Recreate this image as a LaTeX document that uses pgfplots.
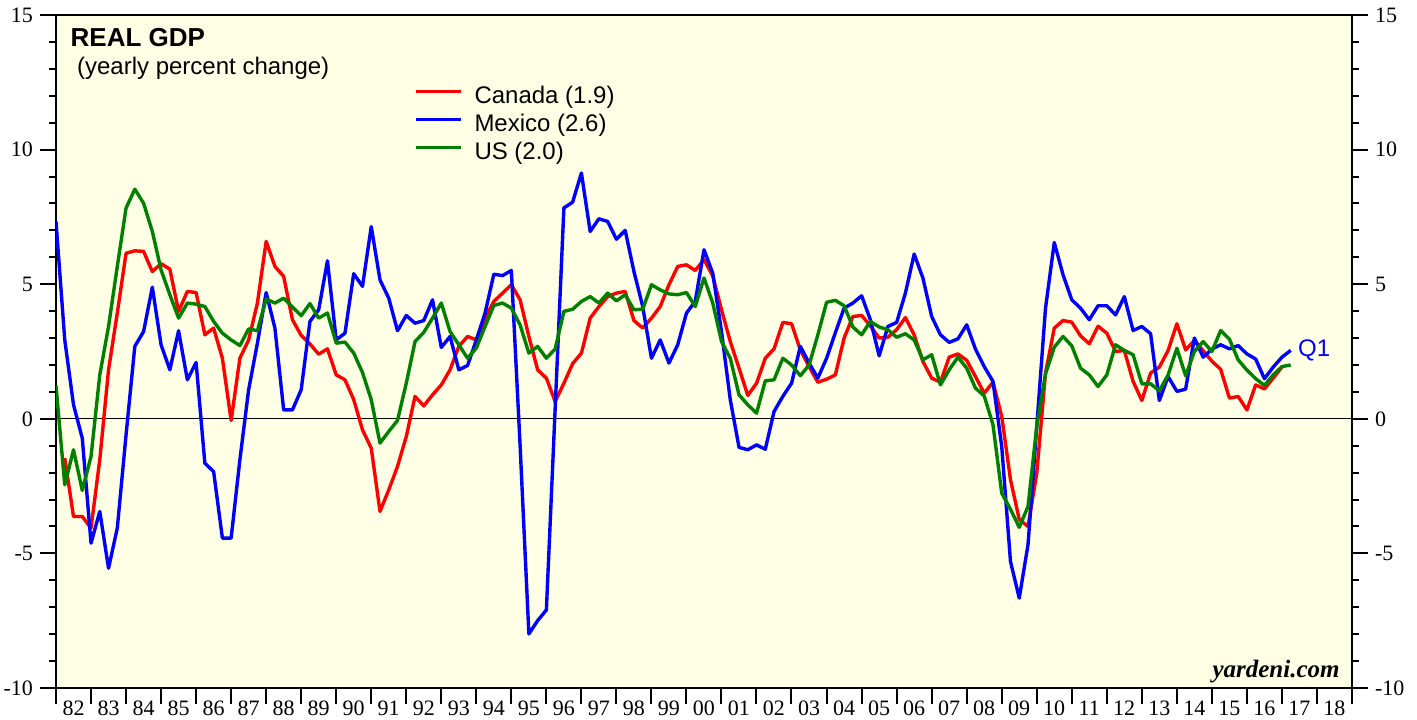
\documentclass[border=0pt]{standalone}
\usepackage{fontspec}
\setmainfont{Liberation Sans}
\newfontfamily\serif{Liberation Serif}
\usepackage{pgfplots}
\usepackage{pgfplotstable}
\pgfplotsset{compat=1.18}
\definecolor{bgyellow}{RGB}{255,255,229}
\definecolor{usgreen}{RGB}{0,128,0}

% yearly percent change, quarterly
\pgfplotstableread{
t can mex us
1982.00 nan 7.33 1.23
1982.25 -1.46 2.93 -2.45
1982.50 -3.63 0.52 -1.15
1982.75 -3.63 -0.72 -2.66
1983.00 -4.06 -4.62 -1.40
1983.25 -1.52 -3.44 1.63
1983.50 1.82 -5.55 3.43
1983.75 3.93 -4.06 5.66
1984.00 6.15 -0.60 7.83
1984.25 6.24 2.69 8.53
1984.50 6.22 3.24 8.01
1984.75 5.47 4.89 6.96
1985.00 5.76 2.75 5.53
1985.25 5.56 1.82 4.61
1985.50 3.99 3.27 3.74
1985.75 4.73 1.45 4.30
1986.00 4.69 2.09 4.26
1986.25 3.12 -1.65 4.17
1986.50 3.37 -1.96 3.62
1986.75 2.25 -4.43 3.18
1987.00 -0.06 -4.43 2.93
1987.25 2.25 -1.52 2.72
1987.50 2.93 1.08 3.34
1987.75 4.30 2.81 3.27
1988.00 6.59 4.69 4.45
1988.25 5.66 3.37 4.30
1988.50 5.29 0.33 4.48
1988.75 3.68 0.33 4.15
1989.00 3.10 1.08 3.83
1989.25 2.78 3.62 4.28
1989.50 2.40 4.05 3.74
1989.75 2.60 5.87 3.93
1990.00 1.63 2.93 2.81
1990.25 1.45 3.18 2.85
1990.50 0.71 5.39 2.44
1990.75 -0.41 4.92 1.72
1991.00 -1.09 7.14 0.71
1991.25 -3.44 5.16 -0.90
1991.50 -2.64 4.48 -0.47
1991.75 -1.77 3.27 -0.06
1992.00 -0.66 3.84 1.32
1992.25 0.83 3.55 2.87
1992.50 0.48 3.65 3.21
1992.75 0.89 4.42 3.74
1993.00 1.26 2.65 4.30
1993.25 1.82 3.06 3.24
1993.50 2.69 1.82 2.75
1993.75 3.06 1.98 2.25
1994.00 2.93 2.93 2.63
1994.25 3.74 3.93 3.43
1994.50 4.36 5.37 4.21
1994.75 4.67 5.32 4.30
1995.00 4.98 5.51 4.11
1995.25 4.42 -1.00 3.49
1995.50 3.06 -7.99 2.44
1995.75 1.82 -7.50 2.69
1996.00 1.51 -7.10 2.25
1996.25 0.64 0.36 2.59
1996.50 1.32 7.83 3.99
1996.75 2.05 8.05 4.07
1997.00 2.44 9.13 4.36
1997.25 3.74 6.96 4.54
1997.50 4.17 7.43 4.30
1997.75 4.54 7.33 4.67
1998.00 4.67 6.67 4.38
1998.25 4.73 7.00 4.61
1998.50 3.65 5.47 4.05
1998.75 3.37 4.17 4.07
1999.00 3.74 2.25 4.98
1999.25 4.17 2.93 4.79
1999.50 4.98 2.07 4.64
1999.75 5.66 2.75 4.61
2000.00 5.72 3.93 4.69
2000.25 5.51 4.36 4.17
2000.50 5.91 6.28 5.23
2000.75 5.31 5.41 4.30
2001.00 4.05 3.24 2.87
2001.25 2.87 0.71 2.25
2001.50 1.88 -1.06 0.89
2001.75 0.87 -1.15 0.52
2002.00 1.32 -0.97 0.21
2002.25 2.25 -1.13 1.41
2002.50 2.60 0.27 1.45
2002.75 3.58 0.83 2.25
2003.00 3.53 1.32 2.00
2003.25 2.56 2.69 1.60
2003.50 1.94 2.07 2.00
2003.75 1.36 1.51 3.12
2004.00 1.47 2.25 4.33
2004.25 1.63 3.20 4.40
2004.50 3.00 4.11 4.20
2004.75 3.80 4.30 3.41
2005.00 3.84 4.57 3.12
2005.25 3.45 3.68 3.62
2005.50 3.00 2.34 3.41
2005.75 3.03 3.43 3.31
2006.00 3.31 3.58 3.03
2006.25 3.76 4.67 3.16
2006.50 3.12 6.12 2.93
2006.75 2.13 5.23 2.19
2007.00 1.51 3.80 2.38
2007.25 1.36 3.12 1.26
2007.50 2.29 2.84 1.82
2007.75 2.41 2.97 2.29
2008.00 2.17 3.49 1.88
2008.25 1.57 2.59 1.14
2008.50 0.95 1.94 0.85
2008.75 1.36 1.39 -0.22
2009.00 0.09 -1.03 -2.76
2009.25 -2.26 -5.30 -3.36
2009.50 -3.74 -6.66 -4.03
2009.75 -4.00 -4.68 -3.26
2010.00 -2.02 -0.28 -0.28
2010.25 1.70 4.11 1.67
2010.50 3.37 6.55 2.66
2010.75 3.65 5.35 3.06
2011.00 3.59 4.42 2.71
2011.25 3.08 4.11 1.88
2011.50 2.79 3.68 1.63
2011.75 3.44 4.20 1.20
2012.00 3.18 4.20 1.63
2012.25 2.50 3.86 2.75
2012.50 2.54 4.54 2.54
2012.75 1.39 3.28 2.38
2013.00 0.68 3.43 1.30
2013.25 1.70 3.16 1.30
2013.50 1.92 0.68 1.04
2013.75 2.54 1.57 1.63
2014.00 3.53 1.02 2.62
2014.25 2.56 1.10 1.60
2014.50 2.91 3.00 2.50
2014.75 2.53 2.29 2.87
2015.00 2.14 2.59 2.50
2015.25 1.84 2.75 3.28
2015.50 0.77 2.60 2.96
2015.75 0.83 2.72 2.19
2016.00 0.33 2.41 1.81
2016.25 1.26 2.22 1.49
2016.50 1.11 1.49 1.24
2016.75 1.51 1.92 1.63
2017.00 1.92 2.29 1.94
2017.25 nan 2.54 2.00
}\gdp

\begin{document}
\begin{tikzpicture}
\useasboundingbox (-28pt,-15.5pt) rectangle (680.5pt,344pt);
\begin{axis}[
    at={(0,0)}, anchor=south west,
    width=648pt, height=336.5pt, scale only axis,
    xmin=1982, xmax=2019, ymin=-10, ymax=15,
    axis background/.style={fill=bgyellow},
    axis line style={line width=1.1pt},
    tick align=outside,
    major tick length=8pt, minor tick length=3.5pt,
    tick style={line width=1pt, black},
    xtick={1982,...,2019},
    xticklabels={82,83,84,85,86,87,88,89,90,91,92,93,94,95,96,97,98,99,00,01,02,03,04,05,06,07,08,09,10,11,12,13,14,15,16,17,18,{}},
    xtick pos=left,
    x tick label style={font=\serif\fontsize{11}{13}\selectfont, xshift=8.76pt, yshift=5pt},
    ytick={-10,-5,0,5,10,15},
    yticklabels={-10,-5,0,5,10,15},
    minor y tick num=4,
    ytick pos=both, yticklabel pos=left,
    y tick label style={font=\serif\fontsize{11}{13}\selectfont},
    legend style={at={(0.276,0.896)}, anchor=north west, draw=none, fill=none,
        inner sep=0pt, font=\fontsize{12}{14}\selectfont, row sep=2pt, column sep=6pt,
        nodes={inner sep=0pt, text height=9pt, text depth=3pt}},
    legend cell align=left,
    legend image code/.code={\draw[#1] (0pt,3pt) -- (22.5pt,3pt);},
    every axis plot/.append style={line width=1.7pt, line join=round},
]
\draw[black, line width=0.6pt] (axis cs:1982,0) -- (axis cs:2019,0);
\addplot[red] table[x=t, y=can] {\gdp};
\addlegendentry{Canada (1.9)}
\addplot[blue] table[x=t, y=mex] {\gdp};
\addlegendentry{Mexico (2.6)}
\addplot[usgreen] table[x=t, y=us] {\gdp};
\addlegendentry{US (2.0)}
\node[anchor=north west, inner sep=0pt, font=\bfseries\fontsize{13}{15}\selectfont] at (rel axis cs:0.011,0.981) {REAL GDP};
\node[anchor=north west, inner sep=0pt, font=\fontsize{12}{14}\selectfont] at (rel axis cs:0.016,0.938) {(yearly percent change)};
\node[anchor=west, text=blue, inner sep=0pt, font=\fontsize{12}{14}\selectfont] at (axis cs:2017.25,2.56) {\hspace{3.5pt}Q1};
\node[anchor=south east, inner sep=0pt, font=\serif\bfseries\itshape\fontsize{12.5}{14}\selectfont] at (rel axis cs:0.9907,0.0074) {yardeni.com};
\end{axis}
\begin{axis}[
    at={(0,0)}, anchor=south west,
    width=648pt, height=336.5pt, scale only axis,
    xmin=1982, xmax=2019, ymin=-10, ymax=15,
    hide x axis,
    axis line style={draw=none},
    tick align=outside, major tick length=8pt,
    tick style={draw=none},
    ytick={-10,-5,0,5,10,15},
    yticklabels={-10,-5,0,5,10,15},
    ytick pos=right, yticklabel pos=right,
    y tick label style={font=\serif\fontsize{11}{13}\selectfont},
]
\end{axis}
\end{tikzpicture}
\end{document}
